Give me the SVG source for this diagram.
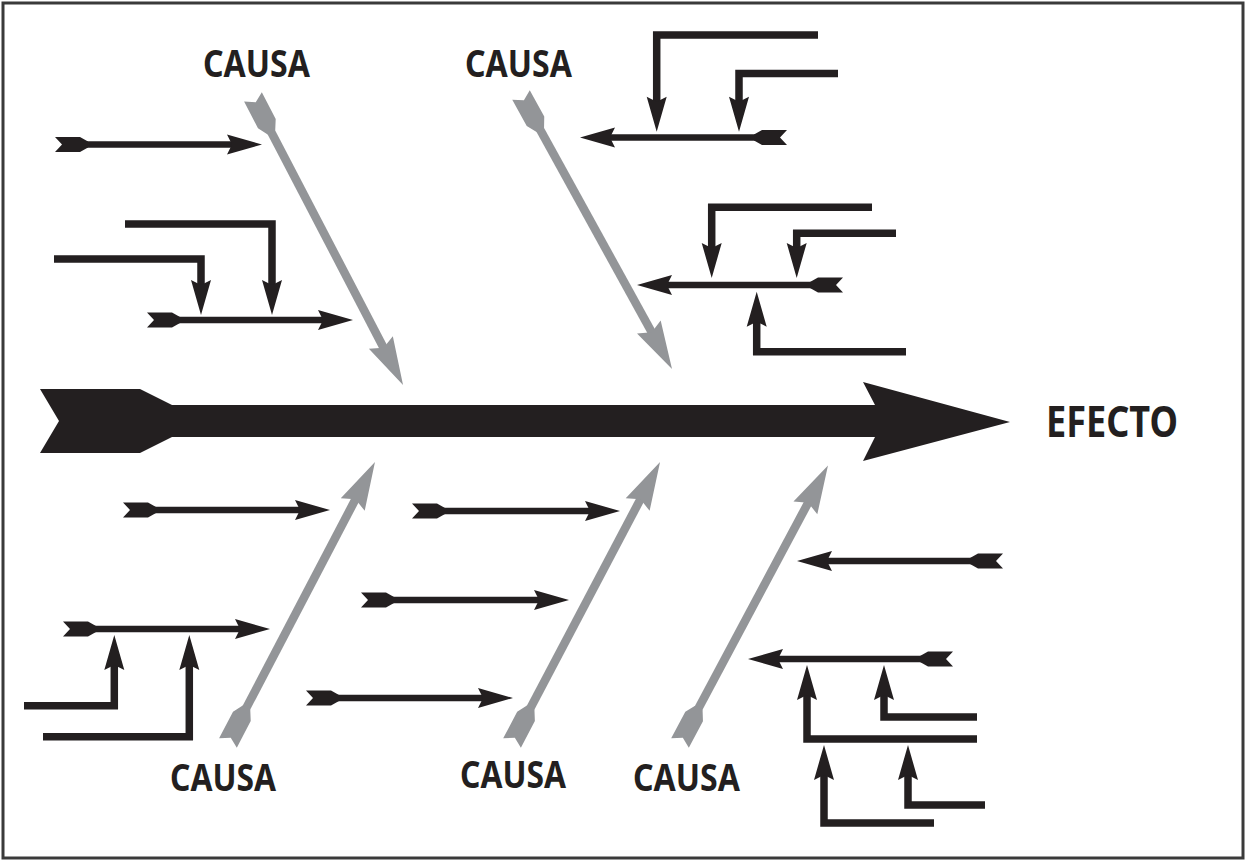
<svg xmlns="http://www.w3.org/2000/svg" width="1247" height="861" viewBox="0 0 1247 861">
<style>
.frame{fill:#fff;stroke:#3a3a3a;stroke-width:3}
.arr{fill:none;stroke:#231f20;stroke-width:6.5;marker-start:url(#bf);marker-end:url(#bh)}
.con{fill:none;stroke:#231f20;stroke-width:7.5;stroke-linejoin:miter;marker-end:url(#bh)}
.cause{fill:none;stroke:#939598;stroke-width:8.5;marker-start:url(#gf);marker-end:url(#gh)}
.lbl{font-family:"Noto Sans","Liberation Sans",sans-serif;font-weight:bold;fill:#231f20}
</style>
<defs>
<marker id="bh" markerUnits="userSpaceOnUse" orient="auto" refX="0" refY="0" markerWidth="10" markerHeight="10" overflow="visible"><path d="M20,0 L-15,-10 L-10,0 L-15,10 Z" fill="#231f20"/></marker>
<marker id="bf" markerUnits="userSpaceOnUse" orient="auto" refX="0" refY="0" markerWidth="10" markerHeight="10" overflow="visible"><path d="M-8,-7.5 L17,-7.5 L25,-3 L25,3 L17,7.5 L-8,7.5 L-1,0 Z" fill="#231f20"/></marker>
<marker id="gh" markerUnits="userSpaceOnUse" orient="auto" refX="0" refY="0" markerWidth="10" markerHeight="10" overflow="visible"><path d="M28,0 L-20,-13.5 L-14,0 L-20,13.5 Z" fill="#939598"/></marker>
<marker id="gf" markerUnits="userSpaceOnUse" orient="auto" refX="0" refY="0" markerWidth="10" markerHeight="10" overflow="visible"><path d="M-7,-10 L23,-10 L33,-4.25 L33,4.25 L23,10 L-7,10 L-1,0 Z" fill="#939598"/></marker>
</defs>
<rect class="frame" x="3" y="3" width="1240" height="855"/>

<g id="spine">
<polygon points="40,389 140,389 172,405 875,405 863,382 1010,422 863,461 875,437 172,437 140,453 40,453 59,421" fill="#231f20"/>
</g>
<g id="efecto"><text class="lbl" x="1046" y="437" font-size="43" textLength="132" lengthAdjust="spacingAndGlyphs">EFECTO</text></g>

<g id="cause1">
<text class="lbl" x="203" y="77" font-size="37" textLength="107" lengthAdjust="spacingAndGlyphs">CAUSA</text>
</g>
<g id="cause2">
<text class="lbl" x="465" y="77" font-size="37" textLength="107" lengthAdjust="spacingAndGlyphs">CAUSA</text>
</g>
<g id="cause3">
<text class="lbl" x="170" y="791" font-size="37" textLength="106" lengthAdjust="spacingAndGlyphs">CAUSA</text>
</g>
<g id="cause4">
<text class="lbl" x="460" y="788" font-size="37" textLength="106" lengthAdjust="spacingAndGlyphs">CAUSA</text>
</g>
<g id="cause5">
<text class="lbl" x="633" y="791" font-size="37" textLength="107" lengthAdjust="spacingAndGlyphs">CAUSA</text>
</g>

<g id="connectors">
<line class="cause" x1="256.2" y1="103.2" x2="390.1" y2="360.2"/>
<line class="cause" x1="524.4" y1="101.1" x2="658.5" y2="344.5"/>
<line class="cause" x1="231.2" y1="736.8" x2="362.0" y2="486.8"/>
<line class="cause" x1="515.3" y1="736.8" x2="647.0" y2="486.8"/>
<line class="cause" x1="683.3" y1="736.8" x2="814.8" y2="490.3"/>

<line class="arr" x1="63" y1="144.5" x2="242" y2="144.5"/>
<line class="arr" x1="155" y1="320" x2="333" y2="320"/>
<line class="arr" x1="779" y1="137.5" x2="600" y2="137.5"/>
<line class="arr" x1="835" y1="285" x2="657" y2="285"/>
<line class="arr" x1="131" y1="510" x2="310" y2="510"/>
<line class="arr" x1="71" y1="629" x2="250" y2="629"/>
<line class="arr" x1="420" y1="511" x2="600" y2="511"/>
<line class="arr" x1="369" y1="600" x2="549" y2="600"/>
<line class="arr" x1="314" y1="698" x2="493" y2="698"/>
<line class="arr" x1="995" y1="561" x2="817" y2="561"/>
<line class="arr" x1="945" y1="659" x2="768" y2="659"/>

<polyline class="con" points="54,259 201,259 201,295"/>
<polyline class="con" points="125,224 272,224 272,295"/>
<polyline class="con" points="818,35 656.7,35 656.7,111.7"/>
<polyline class="con" points="838,73.5 739,73.5 739,111.7"/>
<polyline class="con" points="872,207.3 711.7,207.3 711.7,258"/>
<polyline class="con" points="896,233.3 796.7,233.3 796.7,258"/>
<polyline class="con" points="906,351.7 756.7,351.7 756.7,311.7"/>
<polyline class="con" points="24,705.7 114.3,705.7 114.3,655"/>
<polyline class="con" points="43,736.7 189.3,736.7 189.3,655"/>
<polyline class="con" points="977,717 884,717 884,685"/>
<polyline class="con" points="977,739 807,739 807,685"/>
<polyline class="con" points="934,823 824,823 824,765"/>
<polyline class="con" points="985,805 908,805 908,765"/>
</g>
</svg>
